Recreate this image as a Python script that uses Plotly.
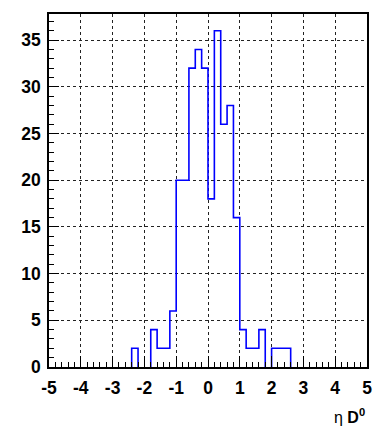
import plotly.graph_objects as go

# Histogram of D0 pseudorapidity: 50 bins of width 0.2 from -5 to 5
bin_lo = -5.0
bin_width = 0.2
counts = [
    0, 0, 0, 0, 0, 0, 0, 0, 0, 0,      # -5.0 .. -3.2
    0, 0, 0, 2, 0, 0, 4, 2, 2, 6,      # -3.0 .. -1.2
    20, 20, 32, 34, 32, 18, 36, 26, 28, 16,  # -1.0 .. 0.8
    4, 2, 2, 4, 0, 2, 2, 2, 0, 0,      # 1.0 .. 2.8
    0, 0, 0, 0, 0, 0, 0, 0, 0, 0,      # 3.0 .. 4.8
]
x_tickvals = [-5, -4, -3, -2, -1, 0, 1, 2, 3, 4, 5]
x_ticktext = ["-5", "-4", "-3", "-2", "-1", "0", "1", "2", "3", "4", "5"]
y_tickvals = [0, 5, 10, 15, 20, 25, 30, 35]
y_ticktext = ["0", "5", "10", "15", "20", "25", "30", "35"]


def outline(values, lo, width):
    """Step outline of the histogram, one closed run per group of filled bins."""
    xs, ys = [], []
    i, n = 0, len(values)
    while i < n:
        if values[i] == 0:
            i += 1
            continue
        left = lo + width * i
        xs.append(left)
        ys.append(0)
        while i < n and values[i] != 0:
            left = lo + width * i
            right = left + width
            xs += [left, right]
            ys += [values[i], values[i]]
            i += 1
        xs += [right, None]
        ys += [0, None]
    return xs, ys


def bold(labels):
    return [f"<b>{t}</b>" for t in labels]


hx, hy = outline(counts, bin_lo, bin_width)

fig = go.Figure()
fig.add_trace(go.Scatter(
    x=hx, y=hy, mode="lines", connectgaps=False,
    line=dict(color="#0000ff", width=1.6), hoverinfo="skip", showlegend=False,
))

tick_font = dict(family="Liberation Sans, Arial, sans-serif", size=17.5,
                 color="black")

fig.update_layout(
    width=374, height=432,
    margin=dict(l=49, r=2, t=14, b=65),
    paper_bgcolor="white", plot_bgcolor="white",
    showlegend=False,
    xaxis=dict(
        range=[-5, 5], tickvals=x_tickvals, ticktext=bold(x_ticktext),
        ticks="inside", ticklen=11, tickwidth=1, tickcolor="black",
        minor=dict(dtick=0.2, ticks="inside", ticklen=5, tickcolor="black",
                   showgrid=False),
        showgrid=True, gridcolor="#222", griddash="dot", gridwidth=1,
        zeroline=False, showline=True, linecolor="black", linewidth=1.5,
        mirror=True, layer="above traces", tickfont=tick_font,
        ticklabelstandoff=4, ticklabeloverflow="allow",
    ),
    yaxis=dict(
        range=[0, 37.8], tickvals=y_tickvals, ticktext=bold(y_ticktext),
        ticks="inside", ticklen=10, tickwidth=1, tickcolor="black",
        minor=dict(dtick=1, ticks="inside", ticklen=5, tickcolor="black",
                   showgrid=False),
        showgrid=True, gridcolor="#222", griddash="dot", gridwidth=1,
        zeroline=False, showline=True, linecolor="black", linewidth=1.5,
        mirror=True, layer="above traces", tickfont=tick_font,
        ticklabelstandoff=3, ticklabeloverflow="allow",
    ),
    annotations=[dict(
        text="η <b>D</b><sup><b>0</b></sup>",
        xref="paper", yref="paper", x=1.0, y=-0.172,
        xanchor="right", yanchor="bottom", showarrow=False,
        font=dict(family="Liberation Sans, Arial, sans-serif", size=16,
                  color="black"),
    )],
)

fig.write_html("out.html")
